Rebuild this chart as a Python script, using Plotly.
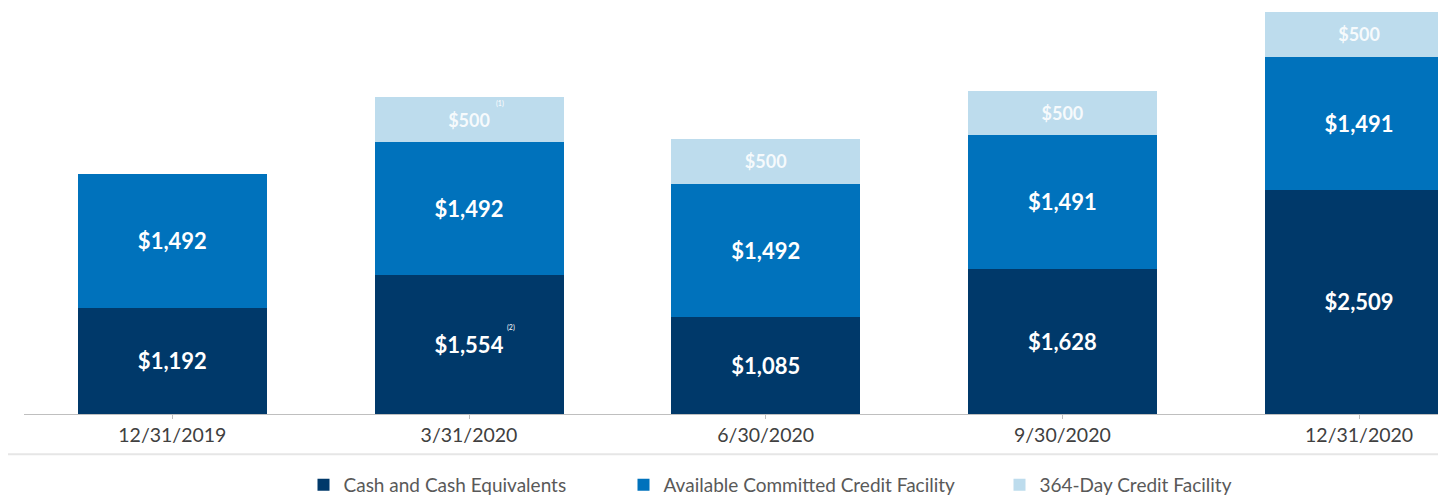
import plotly.graph_objects as go

dates = ["12/31/2019", "3/31/2020", "6/30/2020", "9/30/2020", "12/31/2020"]
cash = [1192, 1554, 1085, 1628, 2509]
committed = [1492, 1492, 1492, 1491, 1491]
day364 = [None, 500, 500, 500, 500]

names = ["Cash and Cash Equivalents", "Available Committed Credit Facility", "364-Day Credit Facility"]
colors = ["#00396A", "#0072BC", "#BDDCED"]
label_colors = ["#FFFFFF", "#FFFFFF", "rgba(255,255,255,0.88)"]
label_sizes = [22, 22, 18]
series = [cash, committed, day364]
legend_ids = ["legend", "legend2", "legend3"]

FONT = "Lato"
W, H = 1438, 492  # page body has an 8px margin

fig = go.Figure()
for vals, name, col, lc, ls, lg in zip(series, names, colors, label_colors, label_sizes, legend_ids):
    fig.add_trace(go.Bar(
        x=dates, y=vals, name=name,
        marker=dict(color=col, line=dict(width=0)),
        texttemplate="$%{y:,.0f}",
        textposition="inside",
        insidetextanchor="middle",
        textfont=dict(family=FONT, size=ls, color=lc, weight="bold"),
        legend=lg,
        showlegend=True,
        hoverinfo="skip",
    ))

# footnote markers
fig.add_annotation(x=dates[1], y=cash[1] + committed[1] + day364[1] / 2, text="(1)",
                   showarrow=False, xshift=31, yshift=16,
                   font=dict(family=FONT, size=7, color="#FFFFFF"))
fig.add_annotation(x=dates[1], y=cash[1] / 2, text="(2)",
                   showarrow=False, xshift=42, yshift=17,
                   font=dict(family=FONT, size=7, color="#FFFFFF"))

# separator line above legend
fig.add_shape(type="line", xref="paper", yref="paper",
              x0=-0.02, x1=1.0, y0=-0.099, y1=-0.099,
              line=dict(color="#E6E6E6", width=2))

leg_common = dict(orientation="h", yanchor="middle", y=1 - 477 / H, yref="container",
                  xanchor="left", xref="container",
                  font=dict(family=FONT, size=19, color="#595959"),
                  bgcolor="rgba(0,0,0,0)")

fig.update_layout(
    width=W, height=H, autosize=False,
    margin=dict(l=16, r=0, t=0, b=86, autoexpand=False),
    showlegend=True,
    barmode="stack", bargap=0.363,
    plot_bgcolor="white", paper_bgcolor="white",
    xaxis=dict(type="category", range=[-0.5, 4.293], showline=True, automargin=False,
               linecolor="#BFBFBF", linewidth=1, ticks="outside", ticklen=4,
               tickcolor="#BFBFBF", showgrid=False,
               tickfont=dict(family=FONT, size=19.5, color="#404040")),
    yaxis=dict(range=[0, 4545], visible=False),
    legend=dict(x=295.5 / W, **leg_common),
    legend2=dict(x=615.5 / W, **leg_common),
    legend3=dict(x=991.5 / W, **leg_common),
)

fig.write_html("out.html")
